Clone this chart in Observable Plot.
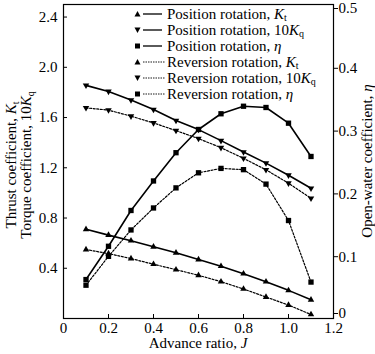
<!DOCTYPE html>
<html><head><meta charset="utf-8">
<script src="https://cdn.jsdelivr.net/npm/d3@7"></script>
<script src="https://cdn.jsdelivr.net/npm/@observablehq/plot@0.6"></script>
<style>
body{margin:0;background:#fff;}
#wrap{position:relative;width:375px;height:354px;font-family:"Liberation Serif","Times New Roman",serif;color:#000;}
#legend{position:absolute;left:131px;top:6px;font-size:15px;line-height:16px;}
#legend .row{display:flex;align-items:center;height:16px;white-space:nowrap;}
#legend svg{display:block;margin-right:1px;}
sub{font-size:10px;vertical-align:-2px;line-height:0;}
</style></head><body><div id="wrap"></div>
<script>
// Advance ratio J
const J = [0.1, 0.2, 0.3, 0.4, 0.5, 0.6, 0.7, 0.8, 0.9, 1.0, 1.1];
// Position rotation
const posKt   = [0.710, 0.664, 0.619, 0.571, 0.523, 0.469, 0.416, 0.357, 0.293, 0.224, 0.149];
const pos10Kq = [1.856, 1.808, 1.739, 1.664, 1.576, 1.504, 1.416, 1.325, 1.237, 1.141, 1.037];
const posEta  = [0.062, 0.115, 0.172, 0.219, 0.264, 0.301, 0.326, 0.338, 0.336, 0.311, 0.258];
// Reversion rotation
const revKt   = [0.549, 0.517, 0.477, 0.432, 0.389, 0.344, 0.293, 0.235, 0.171, 0.107, 0.032];
const rev10Kq = [1.677, 1.659, 1.611, 1.557, 1.496, 1.432, 1.360, 1.275, 1.184, 1.077, 0.957];
const revEta  = [0.053, 0.099, 0.141, 0.176, 0.208, 0.232, 0.239, 0.237, 0.214, 0.156, 0.058];
// Ticks
const xTicks = [0, 0.2, 0.4, 0.6, 0.8, 1.0, 1.2];
const yTicks = [0.4, 0.8, 1.2, 1.6, 2.0, 2.4];
const etaTicks = [0.1, 0.2, 0.3, 0.4];
const etaTop = [0.5];
const etaZero = [0];
const legendLabels = [
  'Position rotation, <i>K</i><sub>t</sub>',
  'Position rotation, 10<i>K</i><sub>q</sub>',
  'Position rotation, <i>η</i>',
  'Reversion rotation, <i>K</i><sub>t</sub>',
  'Reversion rotation, 10<i>K</i><sub>q</sub>',
  'Reversion rotation, <i>η</i>'
];

const ETA_K = 5; // right axis 0..0.5 mapped onto left axis 0..2.5
const series = [
  {values: posKt,   k: 1,     dashed: false, symbol: "triangle", rotate: 0},
  {values: pos10Kq, k: 1,     dashed: false, symbol: "triangle", rotate: 180},
  {values: posEta,  k: ETA_K, dashed: false, symbol: "square",   rotate: 0},
  {values: revKt,   k: 1,     dashed: true,  symbol: "triangle", rotate: 0},
  {values: rev10Kq, k: 1,     dashed: true,  symbol: "triangle", rotate: 180},
  {values: revEta,  k: ETA_K, dashed: true,  symbol: "square",   rotate: 0}
];
const fmt = d => Math.abs(d) < 1e-9 ? "0" : d.toFixed(1);

const marks = [];
series.forEach(s => {
  const data = J.map((j, i) => ({J: j, v: s.values[i] * s.k}));
  marks.push(Plot.line(data, {x: "J", y: "v", stroke: "#000",
    strokeWidth: s.dashed ? 1.2 : 1.6, strokeDasharray: s.dashed ? "2,1.6" : null}));
  marks.push(Plot.dot(data, {x: "J", y: "v", symbol: s.symbol, rotate: s.rotate,
    r: s.symbol === "square" ? 3.0 : 2.4, fill: "#000", stroke: "none"}));
});

const rightAxis = (ticks, dy) => Plot.axisY({anchor: "right", ticks: ticks.map(v => v * ETA_K),
  tickSize: 4, tickPadding: 1, tickFormat: d => fmt(d / ETA_K), label: null, fontSize: 15, dy});

const W = 375, H = 354, mL = 63, mR = 42, mT = 4, mB = 36;
const chart = Plot.plot({
  width: W, height: H,
  marginLeft: mL, marginRight: mR, marginTop: mT, marginBottom: mB,
  style: {fontFamily: '"Liberation Serif","Times New Roman",serif', fontSize: "15px", color: "#000", background: "#fff"},
  x: {domain: [0, 1.2]},
  y: {domain: [0, 2.5]},
  marks: [
    Plot.frame({stroke: "#000", strokeWidth: 1.2}),
    Plot.axisX({ticks: xTicks, tickSize: -4, tickFormat: () => "", label: null}),
    Plot.axisX({ticks: xTicks, tickSize: 0, tickPadding: 4, tickFormat: fmt, label: null, fontSize: 15}),
    Plot.axisY({ticks: yTicks, tickSize: -4, tickFormat: () => "", label: null}),
    Plot.axisY({ticks: yTicks, tickSize: 0, tickPadding: 6, tickFormat: fmt, label: null, fontSize: 15}),
    rightAxis(etaTicks, 1),
    rightAxis(etaTop, 4),
    rightAxis(etaZero, -5),
    ...marks
  ]
});
const wrap = document.getElementById("wrap");
wrap.appendChild(chart);

// Axis titles with italic symbols and subscripts
const svg = d3.select(chart);
const cy = mT + (H - mT - mB) / 2;
function label(g, parts) {
  const t = g.append("text").attr("text-anchor", "middle").attr("font-size", 15).attr("fill", "#000");
  parts.forEach(p => {
    const ts = t.append("tspan").text(p.t);
    if (p.i) ts.attr("font-style", "italic");
    if (p.sub) ts.attr("font-size", 10).attr("dy", 3);
  });
  return t;
}
label(svg.append("g").attr("transform", `translate(16,${cy + 4}) rotate(-90)`),
  [{t: "Thrust coefficient, "}, {t: "K", i: true}, {t: "t", sub: true}]);
label(svg.append("g").attr("transform", `translate(31,${cy + 4}) rotate(-90)`),
  [{t: "Torque coefficient, 10"}, {t: "K", i: true}, {t: "q", sub: true}]);
label(svg.append("g").attr("transform", `translate(372,${cy}) rotate(-90)`),
  [{t: "Open-water coefficient, "}, {t: "η", i: true}]);
label(svg.append("g").attr("transform", `translate(${mL + (W - mL - mR) / 2},${H - 6})`),
  [{t: "Advance ratio, "}, {t: "J", i: true}]);

// Legend
const leg = document.createElement("div");
leg.id = "legend";
series.forEach((s, i) => {
  const row = document.createElement("div");
  row.className = "row";
  const sym = s.symbol === "square"
    ? '<rect x="4" y="5.5" width="5" height="5" fill="#000"/>'
    : `<path d="M6.5,5 L9.5,10.5 L3.5,10.5 Z" fill="#000" transform="rotate(${s.rotate} 6.5 8)"/>`;
  const ln = s.dashed
    ? '<line x1="12" y1="8" x2="34" y2="8" stroke="#000" stroke-width="0.9" stroke-dasharray="1.5,1"/>'
    : '<line x1="12" y1="8" x2="31" y2="8" stroke="#000" stroke-width="1.3"/>';
  row.innerHTML = `<svg width="35" height="16">${sym}${ln}</svg><span>${legendLabels[i]}</span>`;
  leg.appendChild(row);
});
wrap.appendChild(leg);
</script></body></html>
